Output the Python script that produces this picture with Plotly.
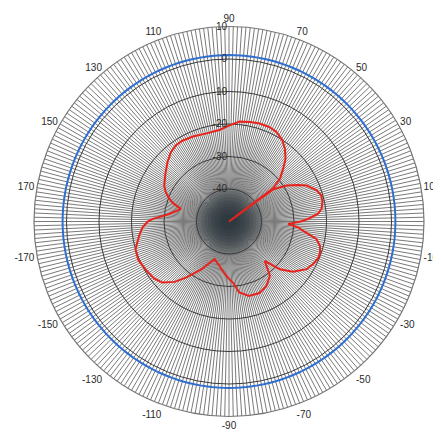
import plotly.graph_objects as go

# Antenna pattern (angle in degrees, gain in dB)
theta_deg = [-180, -176, -171, -163.5, -157, -150, -143, -137.5, -132, -127.5, -120, -115, -111,
             -102, -95, -89.5, -86, -82, -75, -67, -60, -53, -47.8,
             -43.2, -38.2, -31.6, -26.9, -22, -18.8, -15, -11.3, -7.1, -5, -2.4,
             0, 2, 5, 8, 12, 16, 20, 24.9, 28, 32, 36, 36.5, 37,
             40, 44.3, 48, 52.6, 57, 62.1, 67, 72.6, 78, 84, 90, 96, 105, 113, 120, 125,
             130, 136, 143, 151, 155, 159, 162, 165.3, 172.8, 178, 180]
gain_db = [-25.0, -23.3, -22.0, -20.0, -19.7, -20.4, -21.0, -22.2, -25.0, -28.2, -33.0, -36.0, -37.6,
           -36.0, -34.0, -32.2, -31.0, -28.0, -26.3, -26.1, -27.0, -29.1, -33.6,
           -28.5, -25.0, -22.0, -21.0, -20.3, -20.4, -21.0, -22.6, -27.1, -28.5, -31.8,
           -28.0, -25.5, -22.5, -21.2, -20.6, -20.5, -21.5, -23.7, -26.0, -29.1, -33.1, -50.0, -33.0,
           -29.5, -26.7, -24.0, -21.7, -20.0, -18.8, -18.4, -18.4, -18.7, -19.1, -20.5, -21.7, -22.0, -21.6, -21.3, -21.4,
           -22.2, -23.7, -25.5, -27.2, -28.5, -30.3, -32.0, -34.7, -31.5, -26.6, -25.0]

ref_level = [1.2]          # blue reference circle (dB)
radial_ticks = [-40, -30, -20, -10, 0, 10]
angle_labels = [10, 30, 50, 70, 90, 110, 130, 150, 170, -170, -150, -130, -110, -90, -70, -50, -30, -10]
spoke_step = 1.25          # angular grid spacing (deg)
core_levels = [-39.5, -40.5, -41.5, -42.5, -43.5, -44.5, -45.5, -46.5, -47.5]  # soft dark core
core_opacity = 0.12

fig = go.Figure()

circ_theta = list(range(0, 361, 2))

# dark convergence core (soft gradient)
for lvl in core_levels:
    fig.add_trace(go.Scatterpolar(
        r=[lvl] * len(circ_theta), theta=circ_theta, mode="lines",
        fill="toself", fillcolor=f"rgba(18,36,38,{core_opacity})",
        line=dict(width=0), hoverinfo="skip", showlegend=False))

# blue reference circle
fig.add_trace(go.Scatterpolar(
    r=ref_level * len(circ_theta), theta=circ_theta, mode="lines",
    line=dict(color="#2f6fd0", width=2), hoverinfo="skip", showlegend=False))

# pattern
fig.add_trace(go.Scatterpolar(
    r=gain_db, theta=theta_deg, mode="lines",
    line=dict(color="#e8231c", width=2), showlegend=False))

# angular grid, labels at odd tens
n_spokes = int(round(360 / spoke_step))
tick_pos = [i * spoke_step for i in range(n_spokes)]
label_map = {a % 360: str(a) for a in angle_labels}
tick_txt = [label_map.get(t, "") for t in tick_pos]

fig.update_layout(
    width=441, height=438,
    margin=dict(l=26, r=25, t=18, b=29),
    paper_bgcolor="white",
    font=dict(family="Liberation Sans, Arial, sans-serif", size=10, color="#333333"),
    polar=dict(
        bgcolor="white",
        radialaxis=dict(
            range=[-50, 10], tickvals=radial_ticks,
            ticktext=[str(v) for v in radial_ticks],
            angle=90, tickangle=90, side="counterclockwise",
            showline=False, ticks="",
            gridcolor="#3a3a3a", gridwidth=1.2,
            tickfont=dict(size=10, color="#2a2a2a"),
        ),
        angularaxis=dict(
            rotation=0, direction="counterclockwise",
            tickvals=tick_pos, ticktext=tick_txt, ticks="",
            showline=True, linecolor="#777777", linewidth=1.2,
            gridcolor="#7a7a7a", gridwidth=0.8,
            tickfont=dict(size=10, color="#2a2a2a"),
        ),
    ),
)

fig.write_html("out.html")
